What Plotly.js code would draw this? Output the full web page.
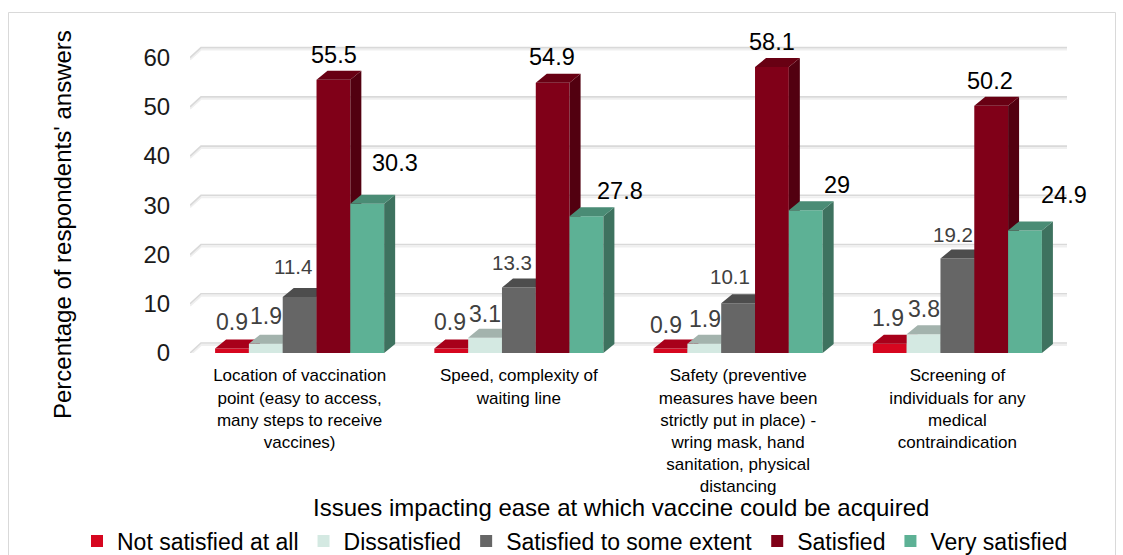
<!DOCTYPE html>
<html>
<head>
<meta charset="utf-8">
<script src="https://cdn.plot.ly/plotly-3.0.1.min.js"></script>
<style>
  html, body { margin: 0; padding: 0; background: #ffffff; }
  #chart { width: 1123px; height: 555px; }
</style>
</head>
<body>
<div id="chart"></div>
<script>
// Survey: satisfaction with issues affecting how easily the vaccine could be acquired
const categories = [
  "Location of vaccination<br>point (easy to access,<br>many steps to receive<br>vaccines)",
  "Speed, complexity of<br>waiting line",
  "Safety (preventive<br>measures have been<br>strictly put in place) -<br>wring mask, hand<br>sanitation, physical<br>distancing",
  "Screening of<br>individuals for any<br>medical<br>contraindication"
];
const seriesNames = ["Not satisfied at all", "Dissatisfied", "Satisfied to some extent", "Satisfied", "Very satisfied"];
const notSatisfiedAtAll   = [0.9, 0.9, 0.9, 1.9];
const dissatisfied        = [1.9, 3.1, 1.9, 3.8];
const satisfiedSomeExtent = [11.4, 13.3, 10.1, 19.2];
const satisfied           = [55.5, 54.9, 58.1, 50.2];
const verySatisfied       = [30.3, 27.8, 29, 24.9];
const yTicks = [0, 10, 20, 30, 40, 50, 60];

const seriesValues = [notSatisfiedAtAll, dissatisfied, satisfiedSomeExtent, satisfied, verySatisfied];

// Face colours: front, top, side
const faceColors = [
  ["#D6061F", "#A8001A", "#8C0015"],
  ["#D4E9E2", "#A3B3AD", "#9DADA7"],
  ["#666666", "#4D4D4D", "#474747"],
  ["#800018", "#680013", "#520010"],
  ["#5DB195", "#4A8C75", "#3E725F"]
];
const labelColors = ["#404040", "#404040", "#404040", "#000000", "#000000"];
const labelSizes = [23, 23, 20.5, 23.5, 23.5];
// Label nudges in pixels (horizontal, height above the bar's front top)
const labelDX = [
  [0, -1.5, -5, -2],
  [0, 0, 1, 0],
  [-7, -6.5, -8.5, -4.5],
  [0.5, -1, 0, -1],
  [27.5, 33.5, 31, 39.5]
];
const labelDY = [
  [27, 27, 24, 26],
  [28, 24, 25, 25],
  [30.5, 25, 27, 24],
  [24.5, 26, 25, 25],
  [41, 25, 25, 35.5]
];

// Plot geometry
const W = 1123, H = 555;
const M = { l: 190, r: 56, t: 33, b: 202, autoexpand: false };
const X_RANGE = [-0.5, 3.5];
const Y_RANGE = [0, 65];
const pxPerX = (W - M.l - M.r) / (X_RANGE[1] - X_RANGE[0]);
const pxPerY = (H - M.t - M.b) / (Y_RANGE[1] - Y_RANGE[0]);

const GROUP_W = 0.771;
const BAR_W = GROUP_W / seriesValues.length;
// depth of the columns and of the back wall, in pixels
const BAR_DX = 11 / pxPerX, BAR_DY = 9 / pxPerY;
const WALL_DX = 11 / pxPerX, WALL_DY = 10 / pxPerY;

const FONT = "Liberation Sans, Arial, sans-serif";
const traces = [];

// Back-wall gridlines with their short diagonal to the front edge
function gridPath(shift) {
  const xs = [], ys = [];
  yTicks.forEach(v => {
    xs.push(X_RANGE[0], X_RANGE[0] + WALL_DX, X_RANGE[1] + WALL_DX, null);
    ys.push(v - shift, v + WALL_DY - shift, v + WALL_DY - shift, null);
  });
  return { xs, ys };
}
const gLow = gridPath(2 / pxPerY);
traces.push({ type: "scatter", mode: "lines", x: gLow.xs, y: gLow.ys, line: { color: "#EFEFEF", width: 2 },
  hoverinfo: "skip", showlegend: false, zorder: -2 });
const gTop = gridPath(0);
traces.push({ type: "scatter", mode: "lines", x: gTop.xs, y: gTop.ys, line: { color: "#D9D9D9", width: 1.6 },
  hoverinfo: "skip", showlegend: false, zorder: -1 });

const catIdx = categories.map((c, i) => i);
const annotations = [];

seriesValues.forEach((vals, j) => {
  const offset = -GROUP_W / 2 + j * BAR_W;
  // front faces
  traces.push({
    type: "bar", name: seriesNames[j], x: catIdx, y: vals,
    width: BAR_W, offset: offset,
    marker: { color: faceColors[j][0], line: { width: 0 } },
    hoverinfo: "skip", zorder: j
  });
  // top and side faces
  const tx = [], ty = [], sx = [], sy = [];
  vals.forEach((v, i) => {
    const x0 = i + offset, x1 = x0 + BAR_W;
    tx.push(x0, x1, x1 + BAR_DX, x0 + BAR_DX, x0, null);
    ty.push(v, v, v + BAR_DY, v + BAR_DY, v, null);
    sx.push(x1, x1 + BAR_DX, x1 + BAR_DX, x1, x1, null);
    sy.push(0, BAR_DY, v + BAR_DY, v, 0, null);
    annotations.push({
      x: x0 + BAR_W / 2, y: v, xref: "x", yref: "y",
      text: String(v), showarrow: false,
      xanchor: "center", yanchor: "middle",
      xshift: labelDX[j][i], yshift: labelDY[j][i],
      font: { family: FONT, size: labelSizes[j], color: labelColors[j] }
    });
  });
  traces.push({ type: "scatter", mode: "lines", x: sx, y: sy, fill: "toself",
    fillcolor: faceColors[j][2], line: { width: 0, color: faceColors[j][2] },
    hoverinfo: "skip", showlegend: false, zorder: j });
  traces.push({ type: "scatter", mode: "lines", x: tx, y: ty, fill: "toself",
    fillcolor: faceColors[j][1], line: { width: 0, color: faceColors[j][1] },
    hoverinfo: "skip", showlegend: false, zorder: j });
});

const pxToPaperX = px => (px - M.l) / (W - M.l - M.r);
const pxToPaperY = py => (H - M.b - py) / (H - M.t - M.b);

annotations.push({
  text: "Percentage of respondents' answers", xref: "paper", yref: "paper",
  x: pxToPaperX(62), y: pxToPaperY(225), textangle: -90, showarrow: false,
  xanchor: "center", yanchor: "middle",
  font: { family: FONT, size: 24, color: "#000000" }
});
annotations.push({
  text: "Issues impacting ease at which vaccine could be acquired", xref: "paper", yref: "paper",
  x: pxToPaperX(621), y: pxToPaperY(507), showarrow: false,
  xanchor: "center", yanchor: "middle",
  font: { family: FONT, size: 24, color: "#000000" }
});

const layout = {
  width: W, height: H,
  margin: M,
  paper_bgcolor: "#ffffff", plot_bgcolor: "rgba(0,0,0,0)",
  font: { family: FONT, color: "#000000" },
  barmode: "overlay",
  showlegend: true,
  legend: {
    orientation: "h",
    x: pxToPaperX(77), xanchor: "left",
    y: pxToPaperY(541), yanchor: "middle",
    font: { family: FONT, size: 23, color: "#000000" },
    traceorder: "normal", itemclick: false, itemdoubleclick: false
  },
  xaxis: {
    range: X_RANGE, tickvals: catIdx, ticktext: categories,
    showgrid: false, zeroline: false, showline: false,
    ticks: "outside", ticklen: 7, tickcolor: "rgba(0,0,0,0)",
    tickfont: { family: FONT, size: 17, color: "#000000" },
    fixedrange: true
  },
  yaxis: {
    range: Y_RANGE, tickvals: yTicks,
    showgrid: false, zeroline: false, showline: false,
    ticks: "outside", ticklen: 14, tickcolor: "rgba(0,0,0,0)",
    tickfont: { family: FONT, size: 24, color: "#1A1A1A" },
    fixedrange: true
  },
  annotations: annotations,
  shapes: [{
    type: "rect", xref: "paper", yref: "paper", layer: "below",
    x0: pxToPaperX(8.5), x1: pxToPaperX(1115.5), y0: pxToPaperY(600), y1: pxToPaperY(12.5),
    line: { color: "#D9D9D9", width: 1 }, fillcolor: "rgba(0,0,0,0)"
  }]
};

Plotly.newPlot("chart", traces, layout, { displayModeBar: false, staticPlot: true });
</script>
</body>
</html>
